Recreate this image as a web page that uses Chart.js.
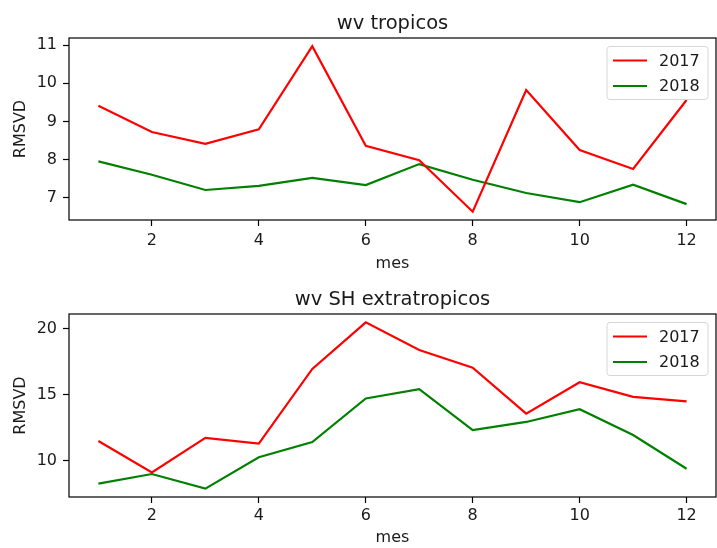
<!DOCTYPE html>
<html>
<head>
<meta charset="utf-8">
<script src="https://cdn.jsdelivr.net/npm/chart.js@4"></script>
<style>
  html, body { margin: 0; padding: 0; background: #fff; overflow: hidden; }
  .box { position: absolute; left: 0; width: 717px; }
  #topBox { top: 0; height: 276px; }
  #bottomBox { top: 276px; height: 272px; }
</style>
</head>
<body>
<div class="box" id="topBox"><canvas id="topCanvas" width="717" height="276"></canvas></div>
<div class="box" id="bottomBox"><canvas id="bottomCanvas" width="717" height="272"></canvas></div>
<script>
// months on the x axis
const months = [1, 2, 3, 4, 5, 6, 7, 8, 9, 10, 11, 12];
const xTicks = [2, 4, 6, 8, 10, 12];

// wv tropicos
const tropicos2017 = [9.41, 8.72, 8.41, 8.79, 10.97, 8.36, 7.98, 6.63, 9.82, 8.25, 7.75, 9.56];
const tropicos2018 = [7.95, 7.60, 7.20, 7.31, 7.52, 7.33, 7.88, 7.47, 7.12, 6.88, 7.34, 6.83];
const yTicksTop = [7, 8, 9, 10, 11];

// wv SH extratropicos
const shExtra2017 = [11.50, 9.12, 11.73, 11.30, 16.95, 20.48, 18.38, 17.05, 13.57, 15.95, 14.84, 14.50];
const shExtra2018 = [8.27, 9.00, 7.89, 10.27, 11.42, 14.72, 15.43, 12.33, 12.94, 13.90, 11.95, 9.40];
const yTicksBottom = [10, 15, 20];

const seriesLabels = ["2017", "2018"];
const seriesColors = ["#ff0000", "#008000"];

const FONT = "'DejaVu Sans', sans-serif";
const TEXT = "#1a1a1a";

// frame + matplotlib style legend inside the axes
const axesDecor = {
  id: "axesDecor",
  afterDatasetsDraw(chart) {
    const { ctx, chartArea: a } = chart;
    ctx.save();
    ctx.strokeStyle = "#000";
    ctx.lineWidth = 1.2;
    ctx.strokeRect(a.left, a.top, a.right - a.left, a.bottom - a.top);

    const w = 101, h = 53;
    const bx = a.right - 8 - w, by = a.top + 8.5;
    ctx.beginPath();
    ctx.roundRect(bx, by, w, h, 3);
    ctx.fillStyle = "rgba(255,255,255,0.8)";
    ctx.fill();
    ctx.strokeStyle = "#d6d6d6";
    ctx.lineWidth = 1;
    ctx.stroke();

    ctx.font = "16px " + FONT;
    ctx.textBaseline = "middle";
    ctx.fillStyle = TEXT;
    chart.data.datasets.forEach((ds, i) => {
      const y = by + 14 + i * 25.5;
      ctx.beginPath();
      ctx.moveTo(bx + 6, y);
      ctx.lineTo(bx + 40, y);
      ctx.strokeStyle = ds.borderColor;
      ctx.lineWidth = 2.2;
      ctx.stroke();
      ctx.fillText(ds.label, bx + 52, y + 1);
    });
    ctx.restore();
  }
};

function padRange(values) {
  const lo = Math.min(...values), hi = Math.max(...values);
  const m = (hi - lo) * 0.05;
  return [lo - m, hi + m];
}

function makeChart(canvasId, title, s2017, s2018, yTicks, xAxisHeight, tickPad, labelPad) {
  const [yMin, yMax] = padRange(s2017.concat(s2018));
  const [xMin, xMax] = padRange(months);
  const series = [s2017, s2018];
  return new Chart(document.getElementById(canvasId), {
    type: "line",
    data: {
      datasets: series.map((s, i) => ({
        label: seriesLabels[i],
        data: months.map((m, j) => ({ x: m, y: s[j] })),
        borderColor: seriesColors[i],
        borderWidth: 2.2,
        pointRadius: 0,
        tension: 0,
        fill: false
      }))
    },
    options: {
      responsive: false,
      animation: false,
      events: [],
      layout: { padding: { left: 0, right: 1, top: 0, bottom: 0 } },
      plugins: {
        legend: { display: false },
        tooltip: { enabled: false },
        title: {
          display: true,
          text: title,
          fullSize: false,
          color: TEXT,
          font: { family: FONT, size: 19.5, weight: "normal" },
          padding: { top: 12, bottom: 2.6 }
        }
      },
      scales: {
        x: {
          type: "linear",
          min: xMin,
          max: xMax,
          afterFit: (s) => { s.height = xAxisHeight; },
          afterBuildTicks: (s) => { s.ticks = xTicks.map(v => ({ value: v })); },
          grid: { drawOnChartArea: false, drawTicks: true, tickLength: 6, tickColor: "#000", tickWidth: 1.2 },
          border: { display: false },
          ticks: { color: TEXT, font: { family: FONT, size: 16 }, padding: tickPad, maxRotation: 0 },
          title: { display: true, text: "mes", color: TEXT, font: { family: FONT, size: 16 }, padding: { top: 0, bottom: labelPad } }
        },
        y: {
          type: "linear",
          min: yMin,
          max: yMax,
          afterFit: (s) => { s.width = 69; },
          afterBuildTicks: (s) => { s.ticks = yTicks.map(v => ({ value: v })); },
          grid: { drawOnChartArea: false, drawTicks: true, tickLength: 6, tickColor: "#000", tickWidth: 1.2 },
          border: { display: false },
          ticks: { color: TEXT, font: { family: FONT, size: 16 }, padding: 6 },
          title: { display: true, text: "RMSVD", color: TEXT, font: { family: FONT, size: 16 }, padding: { top: 11.4, bottom: 0 } }
        }
      }
    },
    plugins: [axesDecor]
  });
}

makeChart("topCanvas", "wv tropicos", tropicos2017, tropicos2018, yTicksTop, 56, 5, 3);
makeChart("bottomCanvas", "wv SH extratropicos", shExtra2017, shExtra2018, yTicksBottom, 51, 3.5, 1);
</script>
</body>
</html>
